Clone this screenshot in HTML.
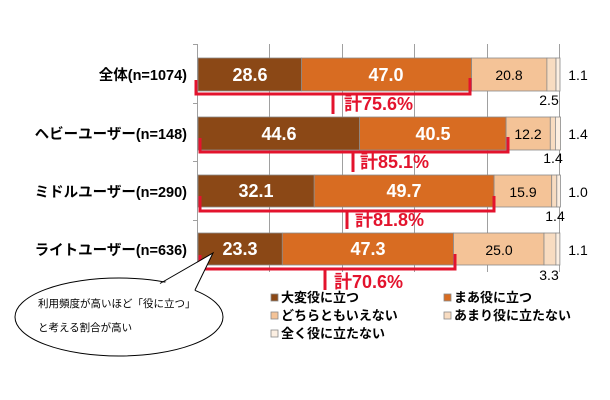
<!DOCTYPE html>
<html><head><meta charset="utf-8"><style>
body{margin:0;background:#fff}
svg{display:block;font-family:"Liberation Sans","Noto Sans CJK JP",sans-serif}
</style></head><body>
<svg width="610" height="400" viewBox="0 0 610 400">
<g stroke="#a0a0a0" stroke-width="1">
<line x1="197.5" y1="44" x2="197.5" y2="272"/>
<line x1="269.5" y1="44" x2="269.5" y2="272"/>
<line x1="342.5" y1="44" x2="342.5" y2="272"/>
<line x1="414.5" y1="44" x2="414.5" y2="272"/>
<line x1="487.5" y1="44" x2="487.5" y2="272"/>
<line x1="559.5" y1="44" x2="559.5" y2="272"/>
<line x1="193" y1="44.5" x2="198" y2="44.5"/>
<line x1="193" y1="103.5" x2="198" y2="103.5"/>
<line x1="193" y1="161.5" x2="198" y2="161.5"/>
<line x1="193" y1="220.5" x2="198" y2="220.5"/>
</g>
<g stroke="#8a8a8a" stroke-width="0.8">
<rect x="198" y="58" width="103.5" height="33" fill="#8b4816"/>
<rect x="301.5" y="58" width="170.1" height="33" fill="#d86c22"/>
<rect x="471.6" y="58" width="75.3" height="33" fill="#f4c397"/>
<rect x="546.9" y="58" width="9.1" height="33" fill="#f8dcc1"/>
<rect x="556" y="58" width="4" height="33" fill="#fcefe2"/>
<rect x="198" y="117" width="161.5" height="33" fill="#8b4816"/>
<rect x="359.5" y="117" width="146.6" height="33" fill="#d86c22"/>
<rect x="506.1" y="117" width="44.2" height="33" fill="#f4c397"/>
<rect x="550.3" y="117" width="5.1" height="33" fill="#f8dcc1"/>
<rect x="555.4" y="117" width="5.1" height="33" fill="#fcefe2"/>
<rect x="198" y="175" width="116.2" height="32" fill="#8b4816"/>
<rect x="314.2" y="175" width="179.9" height="32" fill="#d86c22"/>
<rect x="494.1" y="175" width="57.6" height="32" fill="#f4c397"/>
<rect x="551.7" y="175" width="5.1" height="32" fill="#f8dcc1"/>
<rect x="556.8" y="175" width="3.6" height="32" fill="#fcefe2"/>
<rect x="198" y="233" width="84.3" height="32" fill="#8b4816"/>
<rect x="282.3" y="233" width="171.2" height="32" fill="#d86c22"/>
<rect x="453.5" y="233" width="90.5" height="32" fill="#f4c397"/>
<rect x="544" y="233" width="11.9" height="32" fill="#f8dcc1"/>
<rect x="555.9" y="233" width="4" height="32" fill="#fcefe2"/>
</g>
<g font-weight="bold" font-size="18" fill="#fff" text-anchor="middle">
<text x="250" y="81">28.6</text><text x="386" y="81">47.0</text>
<text x="279" y="140">44.6</text><text x="433" y="140">40.5</text>
<text x="256" y="197">32.1</text><text x="404" y="197">49.7</text>
<text x="240" y="255">23.3</text><text x="368" y="255">47.3</text>
</g>
<g font-size="14" fill="#000" text-anchor="middle">
<text x="509" y="80">20.8</text><text x="528" y="139">12.2</text>
<text x="523" y="197">15.9</text><text x="499" y="255">25.0</text>
<text x="578" y="80">1.1</text><text x="578" y="139">1.4</text>
<text x="578" y="197">1.0</text><text x="578" y="255">1.1</text>
<text x="549" y="105">2.5</text><text x="553" y="163">1.4</text>
<text x="555" y="221">1.4</text><text x="549" y="280">3.3</text>
</g>
<g font-weight="bold" font-size="14.5" fill="#000" text-anchor="end">
<text x="187" y="80">全体(n=1074)</text>
<text x="187" y="139">ヘビーユーザー(n=148)</text>
<text x="187" y="197">ミドルユーザー(n=290)</text>
<text x="187" y="255">ライトユーザー(n=636)</text>
</g>
<g stroke="#e3132d" stroke-width="3" fill="none">
<polyline points="196,80 196,94 470,94 470,78"/>
<line x1="333" y1="94" x2="333" y2="114"/>
<polyline points="200,138 200,152 508,152 508,137"/>
<line x1="353" y1="152" x2="353" y2="172"/>
<polyline points="200,196 200,211 494,211 494,196"/>
<line x1="347" y1="211" x2="347" y2="229"/>
<polyline points="200,255 200,269 455,269 455,254"/>
<line x1="325" y1="269" x2="325" y2="290"/>
</g>
<g font-weight="bold" font-size="18" fill="#e3132d">
<text x="344" y="110">計75.6%</text>
<text x="360" y="168">計85.1%</text>
<text x="355" y="226">計81.8%</text>
<text x="334" y="288">計70.6%</text>
</g>
<ellipse cx="119" cy="317" rx="104" ry="39" fill="#fff" stroke="#000" stroke-width="1"/>
<polygon points="161,285 213,253 194,292" fill="#fff"/>
<polyline points="160,283.5 213,253 195,290" fill="none" stroke="#000" stroke-width="1"/>
<g font-size="10.5" fill="#000">
<text x="38" y="307">利用頻度が高いほど「役に立つ」</text>
<text x="38" y="331">と考える割合が高い</text>
</g>
<g stroke="#8a8a8a" stroke-width="0.8">
<rect x="271" y="294" width="7" height="7" fill="#8b4816"/>
<rect x="444" y="294" width="7" height="7" fill="#d86c22"/>
<rect x="271" y="312" width="7" height="7" fill="#f4c397"/>
<rect x="444" y="312" width="7" height="7" fill="#f8dcc1"/>
<rect x="271" y="330" width="7" height="7" fill="#fcefe2"/>
</g>
<g font-size="13" font-weight="bold" fill="#000">
<text x="281" y="302">大変役に立つ</text>
<text x="454" y="302">まあ役に立つ</text>
<text x="281" y="320">どちらともいえない</text>
<text x="454" y="320">あまり役に立たない</text>
<text x="281" y="338">全く役に立たない</text>
</g>
</svg>
</body></html>
